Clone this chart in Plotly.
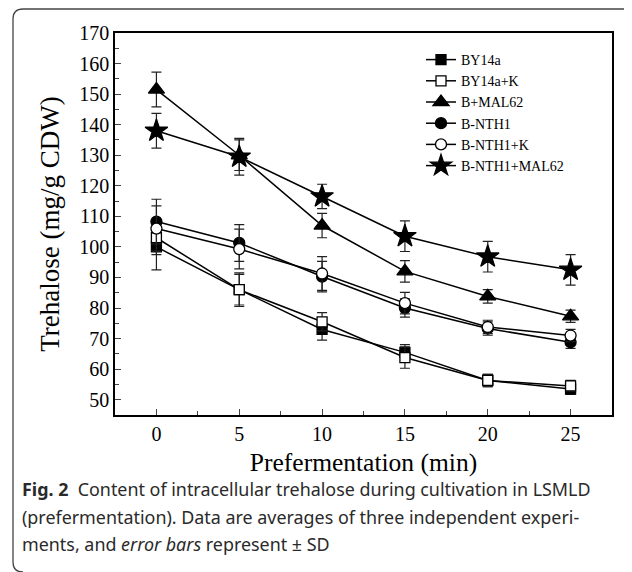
import plotly.graph_objects as go

time_min = [0, 5, 10, 15, 20, 25]

series_names = ["BY14a", "BY14a+K", "B+MAL62", "B-NTH1", "B-NTH1+K", "B-NTH1+MAL62"]
by14a = [100.0, 86.0, 73.0, 65.5, 56.3, 53.5]
by14a_sd = [7.5, 5.5, 3.5, 2.5, 2.0, 1.8]
by14a_k = [103.0, 86.0, 75.5, 63.8, 56.3, 54.5]
by14a_k_sd = [5.5, 5.0, 3.0, 3.5, 2.0, 1.8]
b_mal62 = [151.5, 130.0, 107.0, 92.0, 83.8, 77.3]
b_mal62_sd = [5.7, 5.0, 4.0, 3.5, 2.2, 2.0]
b_nth1 = [108.3, 101.3, 90.3, 80.0, 73.3, 68.8]
b_nth1_sd = [7.3, 6.0, 5.0, 3.0, 2.2, 2.0]
b_nth1_k = [106.0, 99.3, 91.3, 81.6, 73.8, 71.0]
b_nth1_k_sd = [7.4, 6.5, 5.5, 3.5, 2.2, 2.0]
b_nth1_mal62 = [138.0, 129.5, 116.5, 103.5, 96.8, 92.5]
b_nth1_mal62_sd = [5.7, 6.0, 4.0, 5.0, 5.0, 5.0]

y_ticks = [50, 60, 70, 80, 90, 100, 110, 120, 130, 140, 150, 160, 170]
x_ticks = [0, 5, 10, 15, 20, 25]

values = [by14a, by14a_k, b_mal62, b_nth1, b_nth1_k, b_nth1_mal62]
sds = [by14a_sd, by14a_k_sd, b_mal62_sd, b_nth1_sd, b_nth1_k_sd, b_nth1_mal62_sd]
symbols = ["square", "square", "triangle-up", "circle", "circle", "star"]
fills = ["black", "white", "black", "black", "white", "black"]
sizes = [10, 10, 14, 11, 11, 17]

SERIF = "Liberation Serif, Times New Roman, serif"

fig = go.Figure()
for name, v, s, sym, fc, sz in zip(series_names, values, sds, symbols, fills, sizes):
    fig.add_trace(go.Scatter(
        x=time_min, y=v, name=name, mode="lines+markers",
        line=dict(color="black", width=1.5),
        marker=dict(symbol=sym, color=fc, size=sz, line=dict(color="black", width=1.3)),
        error_y=dict(type="data", array=s, visible=True, color="#222", thickness=1.2, width=5),
    ))

# page has an 8px body margin; work in page pixels and convert
OFF = 8
W, H = 632 - OFF, 572 - OFF
L, R, T, B = 115 - OFF, 612 - OFF, 33 - OFF, 415 - OFF


def px(x):
    return (x - OFF - L) / (R - L)


def py(y):
    return (B - (y - OFF)) / (B - T)


fig.update_layout(
    width=W, height=H,
    margin=dict(l=L, r=W - R, t=T, b=H - B, autoexpand=False),
    paper_bgcolor="white", plot_bgcolor="white",
    font=dict(family=SERIF, color="black"),
    showlegend=True,
    legend=dict(x=px(421), y=py(44), xanchor="left", yanchor="top",
                bgcolor="rgba(0,0,0,0)", font=dict(family=SERIF, size=14, color="black"),
                itemwidth=30, tracegroupgap=0),
    xaxis=dict(range=[-2.5, 27.5], tickvals=x_ticks, ticks="inside", ticklen=6, tickwidth=1.3,
               minor=dict(ticks="inside", dtick=2.5, ticklen=4, tickwidth=1.2),
               showline=True, linecolor="black", linewidth=1.5, mirror=True,
               showgrid=False, zeroline=False,
               tickfont=dict(family=SERIF, size=20),
               title=dict(text="Prefermentation (min)", font=dict(family=SERIF, size=25.5), standoff=9)),
    yaxis=dict(range=[45, 170], tickvals=y_ticks, ticks="inside", ticklen=6, tickwidth=1.3,
               minor=dict(ticks="inside", dtick=5, ticklen=4, tickwidth=1.2),
               showline=True, linecolor="black", linewidth=1.5, mirror=True,
               showgrid=False, zeroline=False,
               tickfont=dict(family=SERIF, size=20),
               title=dict(text="Trehalose (mg/g CDW)", font=dict(family=SERIF, size=27), standoff=12)),
)

# rounded outer frame (page pixel coords converted to paper)
rx = 10 / (R - L)
ry = 10 / (B - T)
fx, ftop, fbot, fright = px(13), py(9), py(572), px(660)
path = (f"M {fright},{ftop} L {fx + rx},{ftop} Q {fx},{ftop} {fx},{ftop - ry} "
        f"L {fx},{fbot + ry} Q {fx},{fbot} {fx + rx},{fbot}")
fig.add_shape(type="path", xref="paper", yref="paper", path=path,
              line=dict(color="#444", width=1.3), layer="above")

SANS = "Noto Sans, Open Sans, sans-serif"
cap_lines = [
    "<b>Fig. 2</b>  Content of intracellular trehalose during cultivation in LSMLD",
    "(prefermentation). Data are averages of three independent experi-",
    "ments, and <i>error bars</i> represent \u00b1 SD",
]
for i, t in enumerate(cap_lines):
    fig.add_annotation(x=px(21), y=py(489 + 27.5 * i), xref="paper", yref="paper",
                       xanchor="left", yanchor="middle", showarrow=False, align="left",
                       borderpad=0,
                       text=t, font=dict(family=SANS, size=17.9, color="#2a2a2a"))

fig.write_html("out.html")
